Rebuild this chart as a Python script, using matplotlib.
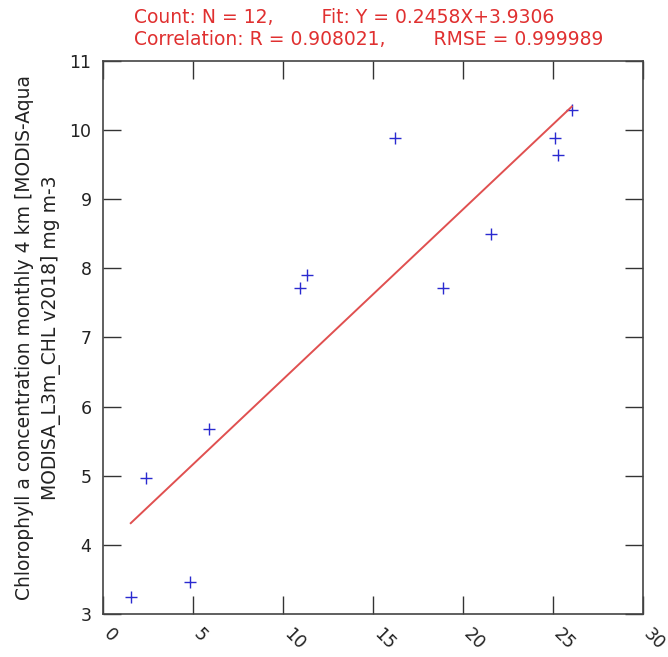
import matplotlib
matplotlib.use("Agg")
import matplotlib.pyplot as plt
import matplotlib.transforms as mtransforms
import numpy as np

# values
x_vals = [1.56, 4.85, 2.41, 5.91, 10.96, 11.37, 16.24, 18.92, 21.56, 25.11, 25.31, 26.06]
y_vals = [3.25, 3.47, 4.97, 5.67, 7.71, 7.90, 9.88, 7.71, 8.50, 9.88, 9.64, 10.29]
fit_slope = 0.2458
fit_icpt = 3.9306
x_ticks = [0, 5, 10, 15, 20, 25, 30]
y_ticks = [3, 4, 5, 6, 7, 8, 9, 10, 11]

title_lines = "Count: N = 12,        Fit: Y = 0.2458X+3.9306\nCorrelation: R = 0.908021,        RMSE = 0.999989"
ylabel = "Chlorophyll a concentration monthly 4 km [MODIS-Aqua\nMODISA_L3m_CHL v2018] mg m-3"

plt.rcParams['font.family'] = ['DejaVu Sans']

fig = plt.figure(figsize=(6.68, 6.57), dpi=100)
ax = fig.add_axes([0.1537, 0.0654, 0.8084, 0.8422])

ax.plot(x_vals, y_vals, linestyle='none', marker='+', markersize=8,
        markeredgewidth=1.0, color='#2a2ad0')
fx = np.array([min(x_vals), max(x_vals)])
ax.plot(fx, fit_slope * fx + fit_icpt, color='#e05050', linewidth=1.4)

ax.set_xlim(0, 30)
ax.set_ylim(3, 11)
ax.set_xticks(x_ticks)
ax.set_yticks(y_ticks)
ax.set_xticklabels([str(t) for t in x_ticks], rotation=-45, ha='left',
                   va='top', rotation_mode='anchor')
ax.tick_params(direction='in', length=13, width=1.0, color='#333333',
               labelsize=12.5, labelcolor='#222222', top=True, right=True, pad=8)
# push the rotated x labels a little to the right, like the reference
shift = mtransforms.ScaledTranslation(10 / 100, 0, fig.dpi_scale_trans)
for lbl in ax.get_xticklabels():
    lbl.set_transform(lbl.get_transform() + shift)
for s in ax.spines.values():
    s.set_color('#444444')
    s.set_linewidth(1.2)

ax.set_ylabel(ylabel, fontsize=13.5, color='#222222', labelpad=6,
              linespacing=1.45)
fig.text(134 / 668, 1 - 8 / 657, title_lines, fontsize=13.5, color='#e03030',
         ha='left', va='top', multialignment='left', linespacing=1.2)

fig.savefig("out.png", dpi=100)
